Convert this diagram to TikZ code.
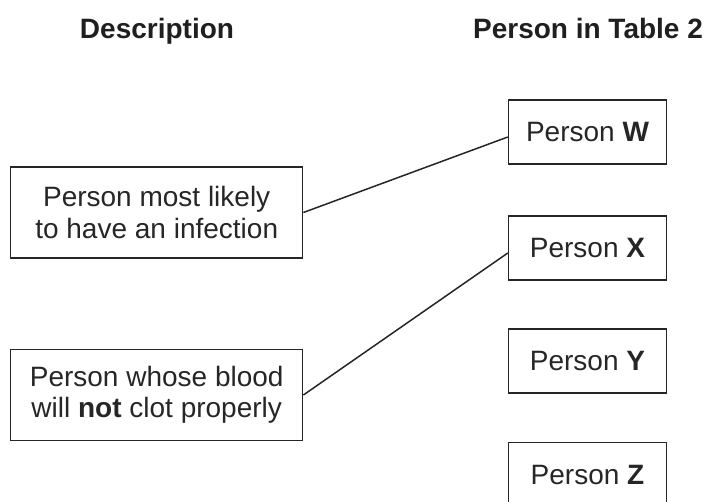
\documentclass[tikz,border=0pt]{standalone}
\usepackage{fontspec}
\setmainfont{Liberation Sans}
\usetikzlibrary{calc}
\begin{document}
\begin{tikzpicture}[x=1pt,y=-1pt,
  box/.style={draw=black!85, line width=1.4pt, inner sep=0pt, align=center,
    text=black!85, font=\fontsize{28}{31.5}\selectfont},
  leftbox/.style={box, minimum width=292pt, minimum height=91pt},
  rightbox/.style={box, minimum width=158pt, minimum height=64pt},
  header/.style={anchor=base, text=black!88, font=\fontsize{28}{31}\selectfont\bfseries},
  link/.style={draw=black!85, line width=1.5pt}]
\useasboundingbox (0,0) rectangle (704,501);
\node[header] (hd) at (157,38) {Description};
\node[header] (hp) at (588,38) {Person in Table 2};
\node[leftbox] (a) at (156.7,212.5) {Person most likely\\to have an infection};
\node[leftbox] (b) at (156.7,395) {Person whose blood\\will \textbf{not} clot properly};
\node[rightbox] (w) at (587.5,132) {Person \textbf{W}};
\node[rightbox] (x) at (587.5,248) {Person \textbf{X}};
\node[rightbox] (y) at (587.5,361) {Person \textbf{Y}};
\node[rightbox] (z) at (587.5,474.7) {Person \textbf{Z}};
\draw[link] (a.east) -- ($(w.west)+(0,5)$);
\draw[link] (b.east) -- ($(x.west)+(0,5)$);
\end{tikzpicture}
\end{document}
